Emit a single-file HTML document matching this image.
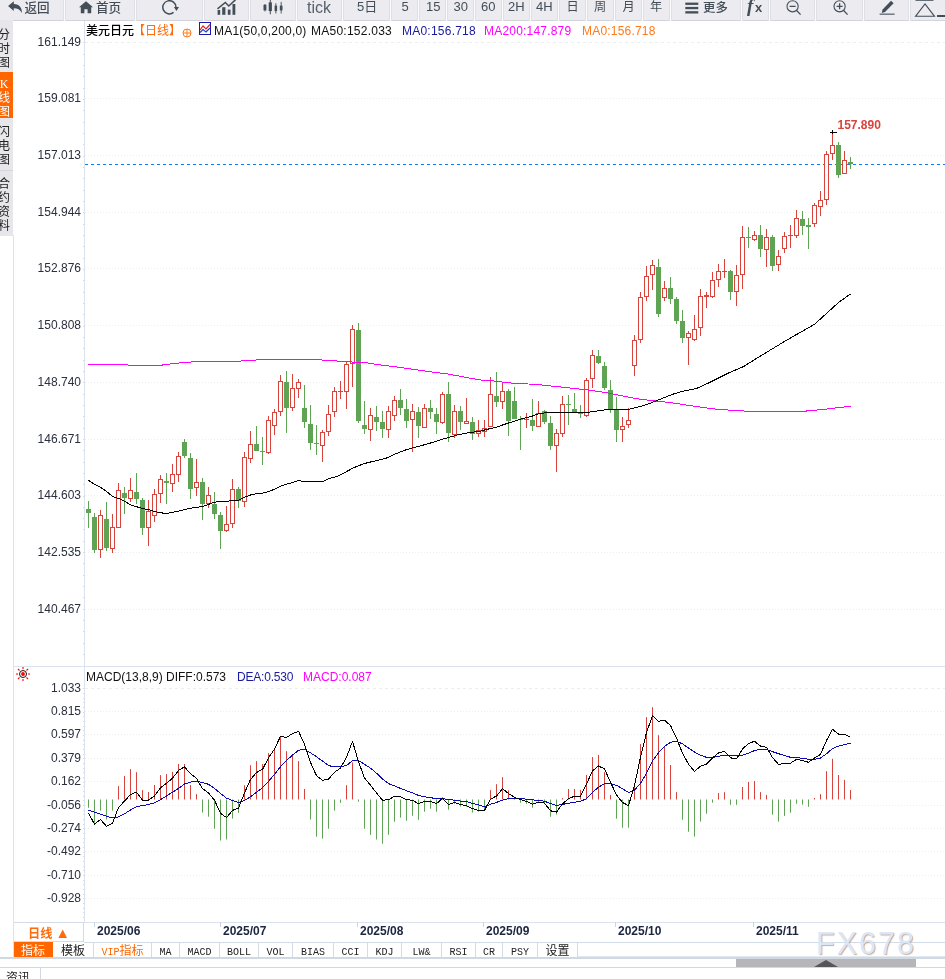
<!DOCTYPE html>
<html><head><meta charset="utf-8"><title>chart</title>
<style>
html,body{margin:0;padding:0;background:#fff;}
body{width:945px;height:979px;position:relative;overflow:hidden;font-family:"Liberation Sans","Noto Sans CJK SC",sans-serif;}
.abs{position:absolute;white-space:nowrap;}
.yl{position:absolute;left:14px;width:67px;text-align:right;font-size:12px;line-height:14px;color:#2b2f3e;}
.tb{position:absolute;top:0;height:20px;background:#ebebf0;box-sizing:border-box;border-left:1px solid #f6f6f9;border-right:1px solid #d4d4dc;border-bottom:1px solid #d8d8e0;color:#3c4650;font-size:13px;line-height:16px;text-align:center;overflow:hidden;white-space:nowrap;}
.side{position:absolute;left:0;width:13px;background:#e6e6eb;color:#222;font-size:12px;line-height:14px;overflow:hidden;font-family:"Liberation Sans","Noto Sans CJK SC",sans-serif;}
.side span{position:absolute;left:-2px;width:12px;text-align:center;}
.tab{position:absolute;top:942px;height:16px;box-sizing:border-box;border-right:1px solid #d3dce6;border-bottom:1px solid #d3dce6;font-size:12px;line-height:21px;text-align:center;color:#222;white-space:nowrap;overflow:hidden;font-family:"Liberation Mono","Noto Sans CJK SC",monospace;}
.tab i{font-style:normal;font-size:10px;display:inline-block;transform:scaleY(1.15);}
.dl{position:absolute;top:924px;font-size:12px;font-weight:bold;color:#1b2540;line-height:14px;}
</style></head><body>
<svg width="945" height="979" viewBox="0 0 945 979" style="position:absolute;left:0;top:0">
<g stroke="#e9eef3" stroke-width="1" stroke-dasharray="1 2" shape-rendering="crispEdges">
<line x1="85" y1="42.5" x2="945" y2="42.5" stroke-dasharray="3 3"/>
<line x1="85" y1="688.5" x2="945" y2="688.5" stroke-dasharray="3 3"/>
<line x1="85" y1="98.5" x2="945" y2="98.5"/>
<line x1="85" y1="155.5" x2="945" y2="155.5"/>
<line x1="85" y1="212.5" x2="945" y2="212.5"/>
<line x1="85" y1="268.5" x2="945" y2="268.5"/>
<line x1="85" y1="325.5" x2="945" y2="325.5"/>
<line x1="85" y1="382.5" x2="945" y2="382.5"/>
<line x1="85" y1="439.5" x2="945" y2="439.5"/>
<line x1="85" y1="495.5" x2="945" y2="495.5"/>
<line x1="85" y1="552.5" x2="945" y2="552.5"/>
<line x1="85" y1="609.5" x2="945" y2="609.5"/>
<line x1="85" y1="711.5" x2="945" y2="711.5"/>
<line x1="85" y1="734.5" x2="945" y2="734.5"/>
<line x1="85" y1="758.5" x2="945" y2="758.5"/>
<line x1="85" y1="781.5" x2="945" y2="781.5"/>
<line x1="85" y1="805.5" x2="945" y2="805.5"/>
<line x1="85" y1="828.5" x2="945" y2="828.5"/>
<line x1="85" y1="851.5" x2="945" y2="851.5"/>
<line x1="85" y1="875.5" x2="945" y2="875.5"/>
<line x1="85" y1="898.5" x2="945" y2="898.5"/>
</g>
<g fill="#cfdbe6" shape-rendering="crispEdges">
<rect x="83" y="42" width="1" height="1"/>
<rect x="83" y="54" width="1" height="1"/>
<rect x="83" y="65" width="1" height="1"/>
<rect x="83" y="76" width="1" height="1"/>
<rect x="83" y="88" width="1" height="1"/>
<rect x="83" y="99" width="1" height="1"/>
<rect x="83" y="110" width="1" height="1"/>
<rect x="83" y="122" width="1" height="1"/>
<rect x="83" y="133" width="1" height="1"/>
<rect x="83" y="144" width="1" height="1"/>
<rect x="83" y="156" width="1" height="1"/>
<rect x="83" y="167" width="1" height="1"/>
<rect x="83" y="178" width="1" height="1"/>
<rect x="83" y="190" width="1" height="1"/>
<rect x="83" y="201" width="1" height="1"/>
<rect x="83" y="212" width="1" height="1"/>
<rect x="83" y="224" width="1" height="1"/>
<rect x="83" y="235" width="1" height="1"/>
<rect x="83" y="246" width="1" height="1"/>
<rect x="83" y="258" width="1" height="1"/>
<rect x="83" y="269" width="1" height="1"/>
<rect x="83" y="280" width="1" height="1"/>
<rect x="83" y="292" width="1" height="1"/>
<rect x="83" y="303" width="1" height="1"/>
<rect x="83" y="314" width="1" height="1"/>
<rect x="83" y="326" width="1" height="1"/>
<rect x="83" y="337" width="1" height="1"/>
<rect x="83" y="348" width="1" height="1"/>
<rect x="83" y="360" width="1" height="1"/>
<rect x="83" y="371" width="1" height="1"/>
<rect x="83" y="382" width="1" height="1"/>
<rect x="83" y="394" width="1" height="1"/>
<rect x="83" y="405" width="1" height="1"/>
<rect x="83" y="416" width="1" height="1"/>
<rect x="83" y="428" width="1" height="1"/>
<rect x="83" y="439" width="1" height="1"/>
<rect x="83" y="450" width="1" height="1"/>
<rect x="83" y="462" width="1" height="1"/>
<rect x="83" y="473" width="1" height="1"/>
<rect x="83" y="484" width="1" height="1"/>
<rect x="83" y="496" width="1" height="1"/>
<rect x="83" y="507" width="1" height="1"/>
<rect x="83" y="518" width="1" height="1"/>
<rect x="83" y="529" width="1" height="1"/>
<rect x="83" y="541" width="1" height="1"/>
<rect x="83" y="552" width="1" height="1"/>
<rect x="83" y="563" width="1" height="1"/>
<rect x="83" y="575" width="1" height="1"/>
<rect x="83" y="586" width="1" height="1"/>
<rect x="83" y="597" width="1" height="1"/>
<rect x="83" y="609" width="1" height="1"/>
<rect x="83" y="620" width="1" height="1"/>
<rect x="83" y="631" width="1" height="1"/>
<rect x="83" y="643" width="1" height="1"/>
<rect x="83" y="654" width="1" height="1"/>
<rect x="83" y="688" width="1" height="1"/>
<rect x="83" y="693" width="1" height="1"/>
<rect x="83" y="698" width="1" height="1"/>
<rect x="83" y="702" width="1" height="1"/>
<rect x="83" y="707" width="1" height="1"/>
<rect x="83" y="712" width="1" height="1"/>
<rect x="83" y="716" width="1" height="1"/>
<rect x="83" y="721" width="1" height="1"/>
<rect x="83" y="726" width="1" height="1"/>
<rect x="83" y="730" width="1" height="1"/>
<rect x="83" y="735" width="1" height="1"/>
<rect x="83" y="740" width="1" height="1"/>
<rect x="83" y="744" width="1" height="1"/>
<rect x="83" y="749" width="1" height="1"/>
<rect x="83" y="754" width="1" height="1"/>
<rect x="83" y="758" width="1" height="1"/>
<rect x="83" y="763" width="1" height="1"/>
<rect x="83" y="768" width="1" height="1"/>
<rect x="83" y="772" width="1" height="1"/>
<rect x="83" y="777" width="1" height="1"/>
<rect x="83" y="782" width="1" height="1"/>
<rect x="83" y="786" width="1" height="1"/>
<rect x="83" y="791" width="1" height="1"/>
<rect x="83" y="796" width="1" height="1"/>
<rect x="83" y="800" width="1" height="1"/>
<rect x="83" y="805" width="1" height="1"/>
<rect x="83" y="810" width="1" height="1"/>
<rect x="83" y="814" width="1" height="1"/>
<rect x="83" y="819" width="1" height="1"/>
<rect x="83" y="824" width="1" height="1"/>
<rect x="83" y="828" width="1" height="1"/>
<rect x="83" y="833" width="1" height="1"/>
<rect x="83" y="838" width="1" height="1"/>
<rect x="83" y="842" width="1" height="1"/>
<rect x="83" y="847" width="1" height="1"/>
<rect x="83" y="852" width="1" height="1"/>
<rect x="83" y="856" width="1" height="1"/>
<rect x="83" y="861" width="1" height="1"/>
<rect x="83" y="866" width="1" height="1"/>
<rect x="83" y="870" width="1" height="1"/>
<rect x="83" y="875" width="1" height="1"/>
<rect x="83" y="880" width="1" height="1"/>
<rect x="83" y="884" width="1" height="1"/>
<rect x="83" y="889" width="1" height="1"/>
<rect x="83" y="894" width="1" height="1"/>
<rect x="83" y="898" width="1" height="1"/>
<rect x="83" y="903" width="1" height="1"/>
<rect x="83" y="908" width="1" height="1"/>
<rect x="83" y="912" width="1" height="1"/>
<rect x="83" y="917" width="1" height="1"/>
</g>
<g fill="#dbe4ec" shape-rendering="crispEdges">
<rect x="84" y="21" width="1" height="901"/>
<rect x="14" y="666" width="931" height="1"/>
<rect x="14" y="922" width="931" height="1"/>
</g>
<line x1="85" y1="164.5" x2="945" y2="164.5" stroke="#0f7bf7" stroke-width="1" stroke-dasharray="3 3" shape-rendering="crispEdges"/>
<g shape-rendering="crispEdges">
<rect x="88" y="501" width="1" height="27" fill="#5fa355"/>
<rect x="86" y="509" width="5" height="4" fill="#5fa355"/>
<rect x="94" y="513" width="1" height="40" fill="#5fa355"/>
<rect x="92" y="517" width="5" height="33" fill="#5fa355"/>
<rect x="100" y="510" width="1" height="5" fill="#d8433c"/>
<rect x="100" y="550" width="1" height="8" fill="#d8433c"/>
<rect x="98.5" y="515.5" width="4" height="34" fill="#fff" stroke="#d8433c" stroke-width="1"/>
<rect x="106" y="502" width="1" height="49" fill="#5fa355"/>
<rect x="104" y="519" width="5" height="29" fill="#5fa355"/>
<rect x="112" y="514" width="1" height="13" fill="#d8433c"/>
<rect x="112" y="549" width="1" height="4" fill="#d8433c"/>
<rect x="110.5" y="527.5" width="4" height="21" fill="#fff" stroke="#d8433c" stroke-width="1"/>
<rect x="118" y="483" width="1" height="7" fill="#d8433c"/>
<rect x="116.5" y="490.5" width="4" height="37" fill="#fff" stroke="#d8433c" stroke-width="1"/>
<rect x="124" y="487" width="1" height="27" fill="#5fa355"/>
<rect x="122" y="493" width="5" height="5" fill="#5fa355"/>
<rect x="130" y="478" width="1" height="12" fill="#d8433c"/>
<rect x="130" y="499" width="1" height="3" fill="#d8433c"/>
<rect x="128.5" y="490.5" width="4" height="8" fill="#fff" stroke="#d8433c" stroke-width="1"/>
<rect x="136" y="473" width="1" height="31" fill="#5fa355"/>
<rect x="134" y="492" width="5" height="7" fill="#5fa355"/>
<rect x="142" y="498" width="1" height="37" fill="#5fa355"/>
<rect x="140" y="500" width="5" height="28" fill="#5fa355"/>
<rect x="148" y="500" width="1" height="11" fill="#d8433c"/>
<rect x="148" y="528" width="1" height="18" fill="#d8433c"/>
<rect x="146.5" y="511.5" width="4" height="16" fill="#fff" stroke="#d8433c" stroke-width="1"/>
<rect x="154" y="489" width="1" height="5" fill="#d8433c"/>
<rect x="154" y="516" width="1" height="6" fill="#d8433c"/>
<rect x="152.5" y="494.5" width="4" height="21" fill="#fff" stroke="#d8433c" stroke-width="1"/>
<rect x="160" y="475" width="1" height="4" fill="#d8433c"/>
<rect x="160" y="494" width="1" height="9" fill="#d8433c"/>
<rect x="158.5" y="479.5" width="4" height="14" fill="#fff" stroke="#d8433c" stroke-width="1"/>
<rect x="166" y="473" width="1" height="31" fill="#5fa355"/>
<rect x="164" y="481" width="5" height="2" fill="#5fa355"/>
<rect x="172" y="464" width="1" height="10" fill="#d8433c"/>
<rect x="172" y="484" width="1" height="8" fill="#d8433c"/>
<rect x="170.5" y="474.5" width="4" height="9" fill="#fff" stroke="#d8433c" stroke-width="1"/>
<rect x="178" y="452" width="1" height="4" fill="#d8433c"/>
<rect x="178" y="475" width="1" height="7" fill="#d8433c"/>
<rect x="176.5" y="456.5" width="4" height="18" fill="#fff" stroke="#d8433c" stroke-width="1"/>
<rect x="184" y="439" width="1" height="19" fill="#5fa355"/>
<rect x="182" y="442" width="5" height="14" fill="#5fa355"/>
<rect x="190" y="453" width="1" height="46" fill="#5fa355"/>
<rect x="188" y="458" width="5" height="31" fill="#5fa355"/>
<rect x="196" y="459" width="1" height="23" fill="#d8433c"/>
<rect x="196" y="488" width="1" height="8" fill="#d8433c"/>
<rect x="194.5" y="482.5" width="4" height="5" fill="#fff" stroke="#d8433c" stroke-width="1"/>
<rect x="202" y="478" width="1" height="42" fill="#5fa355"/>
<rect x="200" y="482" width="5" height="22" fill="#5fa355"/>
<rect x="208" y="487" width="1" height="8" fill="#d8433c"/>
<rect x="208" y="504" width="1" height="4" fill="#d8433c"/>
<rect x="206.5" y="495.5" width="4" height="8" fill="#fff" stroke="#d8433c" stroke-width="1"/>
<rect x="214" y="492" width="1" height="27" fill="#5fa355"/>
<rect x="212" y="504" width="5" height="10" fill="#5fa355"/>
<rect x="220" y="512" width="1" height="37" fill="#5fa355"/>
<rect x="218" y="515" width="5" height="16" fill="#5fa355"/>
<rect x="226" y="506" width="1" height="18" fill="#d8433c"/>
<rect x="226" y="531" width="1" height="1" fill="#d8433c"/>
<rect x="224.5" y="524.5" width="4" height="6" fill="#fff" stroke="#d8433c" stroke-width="1"/>
<rect x="232" y="479" width="1" height="10" fill="#d8433c"/>
<rect x="232" y="524" width="1" height="4" fill="#d8433c"/>
<rect x="230.5" y="489.5" width="4" height="34" fill="#fff" stroke="#d8433c" stroke-width="1"/>
<rect x="238" y="487" width="1" height="21" fill="#5fa355"/>
<rect x="236" y="489" width="5" height="12" fill="#5fa355"/>
<rect x="244" y="452" width="1" height="5" fill="#d8433c"/>
<rect x="244" y="502" width="1" height="5" fill="#d8433c"/>
<rect x="242.5" y="457.5" width="4" height="44" fill="#fff" stroke="#d8433c" stroke-width="1"/>
<rect x="250" y="431" width="1" height="13" fill="#d8433c"/>
<rect x="250" y="459" width="1" height="4" fill="#d8433c"/>
<rect x="248.5" y="444.5" width="4" height="14" fill="#fff" stroke="#d8433c" stroke-width="1"/>
<rect x="256" y="426" width="1" height="25" fill="#5fa355"/>
<rect x="254" y="444" width="5" height="7" fill="#5fa355"/>
<rect x="262" y="437" width="1" height="28" fill="#5fa355"/>
<rect x="260" y="451" width="5" height="1" fill="#5fa355"/>
<rect x="268" y="416" width="1" height="4" fill="#d8433c"/>
<rect x="268" y="453" width="1" height="1" fill="#d8433c"/>
<rect x="266.5" y="420.5" width="4" height="32" fill="#fff" stroke="#d8433c" stroke-width="1"/>
<rect x="274" y="409" width="1" height="3" fill="#d8433c"/>
<rect x="274" y="426" width="1" height="9" fill="#d8433c"/>
<rect x="272.5" y="412.5" width="4" height="13" fill="#fff" stroke="#d8433c" stroke-width="1"/>
<rect x="280" y="375" width="1" height="6" fill="#d8433c"/>
<rect x="280" y="412" width="1" height="4" fill="#d8433c"/>
<rect x="278.5" y="381.5" width="4" height="30" fill="#fff" stroke="#d8433c" stroke-width="1"/>
<rect x="286" y="371" width="1" height="62" fill="#5fa355"/>
<rect x="284" y="382" width="5" height="26" fill="#5fa355"/>
<rect x="292" y="374" width="1" height="14" fill="#d8433c"/>
<rect x="292" y="408" width="1" height="3" fill="#d8433c"/>
<rect x="290.5" y="388.5" width="4" height="19" fill="#fff" stroke="#d8433c" stroke-width="1"/>
<rect x="298" y="379" width="1" height="3" fill="#d8433c"/>
<rect x="298" y="389" width="1" height="9" fill="#d8433c"/>
<rect x="296.5" y="382.5" width="4" height="6" fill="#fff" stroke="#d8433c" stroke-width="1"/>
<rect x="304" y="385" width="1" height="43" fill="#5fa355"/>
<rect x="302" y="408" width="5" height="14" fill="#5fa355"/>
<rect x="310" y="405" width="1" height="45" fill="#5fa355"/>
<rect x="308" y="424" width="5" height="19" fill="#5fa355"/>
<rect x="316" y="425" width="1" height="30" fill="#5fa355"/>
<rect x="314" y="443" width="5" height="1" fill="#5fa355"/>
<rect x="322" y="430" width="1" height="2" fill="#d8433c"/>
<rect x="322" y="446" width="1" height="16" fill="#d8433c"/>
<rect x="320.5" y="432.5" width="4" height="13" fill="#fff" stroke="#d8433c" stroke-width="1"/>
<rect x="328" y="405" width="1" height="9" fill="#d8433c"/>
<rect x="328" y="432" width="1" height="4" fill="#d8433c"/>
<rect x="326.5" y="414.5" width="4" height="17" fill="#fff" stroke="#d8433c" stroke-width="1"/>
<rect x="334" y="387" width="1" height="4" fill="#d8433c"/>
<rect x="334" y="412" width="1" height="5" fill="#d8433c"/>
<rect x="332.5" y="391.5" width="4" height="20" fill="#fff" stroke="#d8433c" stroke-width="1"/>
<rect x="340" y="381" width="1" height="10" fill="#d8433c"/>
<rect x="340" y="392" width="1" height="7" fill="#d8433c"/>
<rect x="338" y="391" width="5" height="1" fill="#d8433c"/>
<rect x="346" y="361" width="1" height="3" fill="#d8433c"/>
<rect x="346" y="392" width="1" height="17" fill="#d8433c"/>
<rect x="344.5" y="364.5" width="4" height="27" fill="#fff" stroke="#d8433c" stroke-width="1"/>
<rect x="352" y="325" width="1" height="4" fill="#d8433c"/>
<rect x="352" y="364" width="1" height="23" fill="#d8433c"/>
<rect x="350.5" y="329.5" width="4" height="34" fill="#fff" stroke="#d8433c" stroke-width="1"/>
<rect x="358" y="323" width="1" height="100" fill="#5fa355"/>
<rect x="356" y="330" width="5" height="91" fill="#5fa355"/>
<rect x="364" y="401" width="1" height="33" fill="#5fa355"/>
<rect x="362" y="425" width="5" height="4" fill="#5fa355"/>
<rect x="370" y="408" width="1" height="7" fill="#d8433c"/>
<rect x="370" y="430" width="1" height="11" fill="#d8433c"/>
<rect x="368.5" y="415.5" width="4" height="14" fill="#fff" stroke="#d8433c" stroke-width="1"/>
<rect x="376" y="406" width="1" height="25" fill="#5fa355"/>
<rect x="374" y="417" width="5" height="5" fill="#5fa355"/>
<rect x="382" y="411" width="1" height="27" fill="#5fa355"/>
<rect x="380" y="422" width="5" height="7" fill="#5fa355"/>
<rect x="388" y="406" width="1" height="5" fill="#d8433c"/>
<rect x="388" y="430" width="1" height="8" fill="#d8433c"/>
<rect x="386.5" y="411.5" width="4" height="18" fill="#fff" stroke="#d8433c" stroke-width="1"/>
<rect x="394" y="396" width="1" height="4" fill="#d8433c"/>
<rect x="394" y="416" width="1" height="5" fill="#d8433c"/>
<rect x="392.5" y="400.5" width="4" height="15" fill="#fff" stroke="#d8433c" stroke-width="1"/>
<rect x="400" y="389" width="1" height="26" fill="#5fa355"/>
<rect x="398" y="400" width="5" height="8" fill="#5fa355"/>
<rect x="406" y="399" width="1" height="29" fill="#5fa355"/>
<rect x="404" y="409" width="5" height="12" fill="#5fa355"/>
<rect x="412" y="404" width="1" height="7" fill="#d8433c"/>
<rect x="412" y="420" width="1" height="32" fill="#d8433c"/>
<rect x="410.5" y="411.5" width="4" height="8" fill="#fff" stroke="#d8433c" stroke-width="1"/>
<rect x="418" y="407" width="1" height="31" fill="#5fa355"/>
<rect x="416" y="412" width="5" height="14" fill="#5fa355"/>
<rect x="424" y="404" width="1" height="4" fill="#d8433c"/>
<rect x="422.5" y="408.5" width="4" height="19" fill="#fff" stroke="#d8433c" stroke-width="1"/>
<rect x="430" y="400" width="1" height="19" fill="#5fa355"/>
<rect x="428" y="408" width="5" height="4" fill="#5fa355"/>
<rect x="436" y="408" width="1" height="26" fill="#5fa355"/>
<rect x="434" y="414" width="5" height="8" fill="#5fa355"/>
<rect x="442" y="392" width="1" height="2" fill="#d8433c"/>
<rect x="442" y="423" width="1" height="1" fill="#d8433c"/>
<rect x="440.5" y="394.5" width="4" height="28" fill="#fff" stroke="#d8433c" stroke-width="1"/>
<rect x="448" y="382" width="1" height="60" fill="#5fa355"/>
<rect x="446" y="394" width="5" height="39" fill="#5fa355"/>
<rect x="454" y="405" width="1" height="6" fill="#d8433c"/>
<rect x="454" y="435" width="1" height="3" fill="#d8433c"/>
<rect x="452.5" y="411.5" width="4" height="23" fill="#fff" stroke="#d8433c" stroke-width="1"/>
<rect x="460" y="406" width="1" height="24" fill="#5fa355"/>
<rect x="458" y="411" width="5" height="11" fill="#5fa355"/>
<rect x="466" y="398" width="1" height="23" fill="#d8433c"/>
<rect x="464.5" y="421.5" width="4" height="2" fill="#fff" stroke="#d8433c" stroke-width="1"/>
<rect x="472" y="417" width="1" height="23" fill="#5fa355"/>
<rect x="470" y="422" width="5" height="12" fill="#5fa355"/>
<rect x="478" y="420" width="1" height="10" fill="#d8433c"/>
<rect x="478" y="434" width="1" height="3" fill="#d8433c"/>
<rect x="476.5" y="430.5" width="4" height="3" fill="#fff" stroke="#d8433c" stroke-width="1"/>
<rect x="484" y="420" width="1" height="8" fill="#d8433c"/>
<rect x="484" y="432" width="1" height="5" fill="#d8433c"/>
<rect x="482.5" y="428.5" width="4" height="3" fill="#fff" stroke="#d8433c" stroke-width="1"/>
<rect x="490" y="377" width="1" height="17" fill="#d8433c"/>
<rect x="488.5" y="394.5" width="4" height="32" fill="#fff" stroke="#d8433c" stroke-width="1"/>
<rect x="496" y="372" width="1" height="35" fill="#5fa355"/>
<rect x="494" y="396" width="5" height="6" fill="#5fa355"/>
<rect x="502" y="383" width="1" height="8" fill="#d8433c"/>
<rect x="502" y="402" width="1" height="7" fill="#d8433c"/>
<rect x="500.5" y="391.5" width="4" height="10" fill="#fff" stroke="#d8433c" stroke-width="1"/>
<rect x="508" y="389" width="1" height="47" fill="#5fa355"/>
<rect x="506" y="391" width="5" height="30" fill="#5fa355"/>
<rect x="514" y="387" width="1" height="32" fill="#5fa355"/>
<rect x="512" y="401" width="5" height="18" fill="#5fa355"/>
<rect x="520" y="416" width="1" height="34" fill="#5fa355"/>
<rect x="518" y="419" width="5" height="1" fill="#5fa355"/>
<rect x="526" y="413" width="1" height="6" fill="#d8433c"/>
<rect x="526" y="420" width="1" height="8" fill="#d8433c"/>
<rect x="524" y="419" width="5" height="1" fill="#d8433c"/>
<rect x="532" y="399" width="1" height="32" fill="#5fa355"/>
<rect x="530" y="420" width="5" height="6" fill="#5fa355"/>
<rect x="538" y="401" width="1" height="12" fill="#d8433c"/>
<rect x="536.5" y="413.5" width="4" height="13" fill="#fff" stroke="#d8433c" stroke-width="1"/>
<rect x="544" y="410" width="1" height="14" fill="#5fa355"/>
<rect x="542" y="411" width="5" height="11" fill="#5fa355"/>
<rect x="550" y="416" width="1" height="34" fill="#5fa355"/>
<rect x="548" y="423" width="5" height="23" fill="#5fa355"/>
<rect x="556" y="429" width="1" height="4" fill="#d8433c"/>
<rect x="556" y="446" width="1" height="26" fill="#d8433c"/>
<rect x="554.5" y="433.5" width="4" height="12" fill="#fff" stroke="#d8433c" stroke-width="1"/>
<rect x="562" y="396" width="1" height="8" fill="#d8433c"/>
<rect x="562" y="434" width="1" height="3" fill="#d8433c"/>
<rect x="560.5" y="404.5" width="4" height="29" fill="#fff" stroke="#d8433c" stroke-width="1"/>
<rect x="568" y="395" width="1" height="30" fill="#5fa355"/>
<rect x="566" y="404" width="5" height="1" fill="#5fa355"/>
<rect x="574" y="393" width="1" height="19" fill="#5fa355"/>
<rect x="572" y="409" width="5" height="3" fill="#5fa355"/>
<rect x="580" y="405" width="1" height="13" fill="#5fa355"/>
<rect x="578" y="412" width="5" height="2" fill="#5fa355"/>
<rect x="586" y="378" width="1" height="2" fill="#d8433c"/>
<rect x="586" y="416" width="1" height="1" fill="#d8433c"/>
<rect x="584.5" y="380.5" width="4" height="35" fill="#fff" stroke="#d8433c" stroke-width="1"/>
<rect x="592" y="350" width="1" height="5" fill="#d8433c"/>
<rect x="592" y="379" width="1" height="9" fill="#d8433c"/>
<rect x="590.5" y="355.5" width="4" height="23" fill="#fff" stroke="#d8433c" stroke-width="1"/>
<rect x="598" y="350" width="1" height="14" fill="#5fa355"/>
<rect x="596" y="356" width="5" height="7" fill="#5fa355"/>
<rect x="604" y="362" width="1" height="28" fill="#5fa355"/>
<rect x="602" y="366" width="5" height="22" fill="#5fa355"/>
<rect x="610" y="380" width="1" height="33" fill="#5fa355"/>
<rect x="608" y="390" width="5" height="19" fill="#5fa355"/>
<rect x="616" y="397" width="1" height="45" fill="#5fa355"/>
<rect x="614" y="410" width="5" height="20" fill="#5fa355"/>
<rect x="622" y="417" width="1" height="9" fill="#d8433c"/>
<rect x="622" y="430" width="1" height="12" fill="#d8433c"/>
<rect x="620.5" y="426.5" width="4" height="3" fill="#fff" stroke="#d8433c" stroke-width="1"/>
<rect x="628" y="408" width="1" height="12" fill="#d8433c"/>
<rect x="628" y="425" width="1" height="3" fill="#d8433c"/>
<rect x="626.5" y="420.5" width="4" height="4" fill="#fff" stroke="#d8433c" stroke-width="1"/>
<rect x="634" y="335" width="1" height="5" fill="#d8433c"/>
<rect x="634" y="366" width="1" height="10" fill="#d8433c"/>
<rect x="632.5" y="340.5" width="4" height="25" fill="#fff" stroke="#d8433c" stroke-width="1"/>
<rect x="640" y="292" width="1" height="5" fill="#d8433c"/>
<rect x="640" y="340" width="1" height="3" fill="#d8433c"/>
<rect x="638.5" y="297.5" width="4" height="42" fill="#fff" stroke="#d8433c" stroke-width="1"/>
<rect x="646" y="266" width="1" height="10" fill="#d8433c"/>
<rect x="646" y="297" width="1" height="4" fill="#d8433c"/>
<rect x="644.5" y="276.5" width="4" height="20" fill="#fff" stroke="#d8433c" stroke-width="1"/>
<rect x="652" y="260" width="1" height="5" fill="#d8433c"/>
<rect x="652" y="275" width="1" height="15" fill="#d8433c"/>
<rect x="650.5" y="265.5" width="4" height="9" fill="#fff" stroke="#d8433c" stroke-width="1"/>
<rect x="658" y="259" width="1" height="58" fill="#5fa355"/>
<rect x="656" y="267" width="5" height="47" fill="#5fa355"/>
<rect x="664" y="281" width="1" height="7" fill="#d8433c"/>
<rect x="664" y="298" width="1" height="3" fill="#d8433c"/>
<rect x="662.5" y="288.5" width="4" height="9" fill="#fff" stroke="#d8433c" stroke-width="1"/>
<rect x="670" y="277" width="1" height="27" fill="#5fa355"/>
<rect x="668" y="288" width="5" height="11" fill="#5fa355"/>
<rect x="676" y="297" width="1" height="27" fill="#5fa355"/>
<rect x="674" y="299" width="5" height="22" fill="#5fa355"/>
<rect x="682" y="310" width="1" height="33" fill="#5fa355"/>
<rect x="680" y="321" width="5" height="17" fill="#5fa355"/>
<rect x="688" y="331" width="1" height="2" fill="#d8433c"/>
<rect x="688" y="338" width="1" height="27" fill="#d8433c"/>
<rect x="686.5" y="333.5" width="4" height="4" fill="#fff" stroke="#d8433c" stroke-width="1"/>
<rect x="694" y="315" width="1" height="14" fill="#d8433c"/>
<rect x="694" y="340" width="1" height="1" fill="#d8433c"/>
<rect x="692.5" y="329.5" width="4" height="10" fill="#fff" stroke="#d8433c" stroke-width="1"/>
<rect x="700" y="289" width="1" height="7" fill="#d8433c"/>
<rect x="700" y="328" width="1" height="8" fill="#d8433c"/>
<rect x="698.5" y="296.5" width="4" height="31" fill="#fff" stroke="#d8433c" stroke-width="1"/>
<rect x="706" y="292" width="1" height="3" fill="#d8433c"/>
<rect x="706" y="297" width="1" height="11" fill="#d8433c"/>
<rect x="704" y="295" width="5" height="2" fill="#d8433c"/>
<rect x="712" y="272" width="1" height="8" fill="#d8433c"/>
<rect x="712" y="297" width="1" height="1" fill="#d8433c"/>
<rect x="710.5" y="280.5" width="4" height="16" fill="#fff" stroke="#d8433c" stroke-width="1"/>
<rect x="718" y="264" width="1" height="7" fill="#d8433c"/>
<rect x="718" y="280" width="1" height="7" fill="#d8433c"/>
<rect x="716.5" y="271.5" width="4" height="8" fill="#fff" stroke="#d8433c" stroke-width="1"/>
<rect x="724" y="259" width="1" height="12" fill="#d8433c"/>
<rect x="724" y="272" width="1" height="6" fill="#d8433c"/>
<rect x="722" y="271" width="5" height="1" fill="#d8433c"/>
<rect x="730" y="270" width="1" height="30" fill="#5fa355"/>
<rect x="728" y="271" width="5" height="21" fill="#5fa355"/>
<rect x="736" y="265" width="1" height="10" fill="#d8433c"/>
<rect x="736" y="292" width="1" height="14" fill="#d8433c"/>
<rect x="734.5" y="275.5" width="4" height="16" fill="#fff" stroke="#d8433c" stroke-width="1"/>
<rect x="742" y="226" width="1" height="11" fill="#d8433c"/>
<rect x="742" y="275" width="1" height="14" fill="#d8433c"/>
<rect x="740.5" y="237.5" width="4" height="37" fill="#fff" stroke="#d8433c" stroke-width="1"/>
<rect x="748" y="227" width="1" height="21" fill="#5fa355"/>
<rect x="746" y="237" width="5" height="1" fill="#5fa355"/>
<rect x="754" y="231" width="1" height="4" fill="#d8433c"/>
<rect x="754" y="240" width="1" height="1" fill="#d8433c"/>
<rect x="752.5" y="235.5" width="4" height="4" fill="#fff" stroke="#d8433c" stroke-width="1"/>
<rect x="760" y="225" width="1" height="32" fill="#5fa355"/>
<rect x="758" y="235" width="5" height="14" fill="#5fa355"/>
<rect x="766" y="229" width="1" height="8" fill="#d8433c"/>
<rect x="766" y="250" width="1" height="17" fill="#d8433c"/>
<rect x="764.5" y="237.5" width="4" height="12" fill="#fff" stroke="#d8433c" stroke-width="1"/>
<rect x="772" y="235" width="1" height="36" fill="#5fa355"/>
<rect x="770" y="237" width="5" height="29" fill="#5fa355"/>
<rect x="778" y="250" width="1" height="6" fill="#d8433c"/>
<rect x="778" y="265" width="1" height="6" fill="#d8433c"/>
<rect x="776.5" y="256.5" width="4" height="8" fill="#fff" stroke="#d8433c" stroke-width="1"/>
<rect x="784" y="232" width="1" height="4" fill="#d8433c"/>
<rect x="784" y="249" width="1" height="4" fill="#d8433c"/>
<rect x="782.5" y="236.5" width="4" height="12" fill="#fff" stroke="#d8433c" stroke-width="1"/>
<rect x="790" y="225" width="1" height="10" fill="#d8433c"/>
<rect x="790" y="236" width="1" height="12" fill="#d8433c"/>
<rect x="788" y="235" width="5" height="1" fill="#d8433c"/>
<rect x="796" y="210" width="1" height="8" fill="#d8433c"/>
<rect x="796" y="236" width="1" height="2" fill="#d8433c"/>
<rect x="794.5" y="218.5" width="4" height="17" fill="#fff" stroke="#d8433c" stroke-width="1"/>
<rect x="802" y="211" width="1" height="24" fill="#5fa355"/>
<rect x="800" y="219" width="5" height="7" fill="#5fa355"/>
<rect x="808" y="218" width="1" height="31" fill="#5fa355"/>
<rect x="806" y="225" width="5" height="2" fill="#5fa355"/>
<rect x="814" y="203" width="1" height="2" fill="#d8433c"/>
<rect x="814" y="224" width="1" height="3" fill="#d8433c"/>
<rect x="812.5" y="205.5" width="4" height="18" fill="#fff" stroke="#d8433c" stroke-width="1"/>
<rect x="820" y="191" width="1" height="9" fill="#d8433c"/>
<rect x="820" y="207" width="1" height="9" fill="#d8433c"/>
<rect x="818.5" y="200.5" width="4" height="6" fill="#fff" stroke="#d8433c" stroke-width="1"/>
<rect x="826" y="151" width="1" height="3" fill="#d8433c"/>
<rect x="826" y="200" width="1" height="5" fill="#d8433c"/>
<rect x="824.5" y="154.5" width="4" height="45" fill="#fff" stroke="#d8433c" stroke-width="1"/>
<rect x="832" y="133" width="1" height="12" fill="#d8433c"/>
<rect x="832" y="154" width="1" height="6" fill="#d8433c"/>
<rect x="830.5" y="145.5" width="4" height="8" fill="#fff" stroke="#d8433c" stroke-width="1"/>
<rect x="838" y="142" width="1" height="36" fill="#5fa355"/>
<rect x="836" y="145" width="5" height="30" fill="#5fa355"/>
<rect x="844" y="151" width="1" height="9" fill="#d8433c"/>
<rect x="842.5" y="160.5" width="4" height="13" fill="#fff" stroke="#d8433c" stroke-width="1"/>
<rect x="850" y="157" width="1" height="12" fill="#5fa355"/>
<rect x="848" y="162" width="5" height="2" fill="#5fa355"/>
</g>
<polyline fill="none" stroke="#ff00ff" stroke-width="1" stroke-linejoin="round" shape-rendering="crispEdges" points="88.5,364.0 125.0,364.2 128.4,365.1 161.8,365.1 175.0,363.3 188.4,362.2 199.6,361.3 239.6,361.1 259.6,359.8 313.0,359.5 332.0,360.6 346.5,361.7 367.0,362.8 372.0,363.8 397.0,367.0 423.0,370.8 448.0,374.0 473.6,378.8 482.5,380.3 492.0,380.8 511.0,383.0 537.0,384.5 562.0,387.1 587.6,390.0 606.0,392.5 629.0,397.3 641.6,399.5 660.0,401.4 672.2,402.9 694.4,406.2 716.7,409.3 738.9,410.7 754.4,411.6 783.3,411.6 805.6,411.1 827.8,408.9 850.5,406.2"/>
<polyline fill="none" stroke="#000000" stroke-width="1" stroke-linejoin="round" shape-rendering="crispEdges" points="88.5,480.4 94.5,484.4 100.5,487.2 106.5,491.4 112.5,496.5 118.5,498.4 124.5,501.3 130.5,504.8 136.5,506.7 142.5,508.6 148.5,509.6 154.5,511.5 160.5,512.8 166.5,513.4 172.5,512.4 178.5,511.1 184.5,509.6 190.5,508.3 196.5,507.3 202.5,506.5 208.5,504.4 214.5,502.2 220.5,501.6 226.5,501.2 232.5,500.7 238.5,500.3 244.5,497.1 250.5,495.0 256.5,493.6 262.5,493.3 268.5,491.4 274.5,489.3 280.5,486.3 286.5,484.2 292.5,482.6 298.9,480.4 302.7,481.4 323.0,481.4 328.1,478.9 338.3,476.0 345.9,471.9 353.5,467.8 363.7,463.7 372.5,461.5 385.2,458.6 395.4,454.0 404.3,450.4 410.0,448.6 420.0,446.0 432.0,442.6 444.0,438.8 458.0,434.8 470.0,432.5 480.0,431.2 486.0,429.6 496.4,427.1 508.5,423.0 520.4,419.2 532.5,416.0 538.4,413.9 544.4,412.9 562.0,412.5 588.0,412.3 608.6,409.4 628.9,409.4 641.6,406.2 650.0,403.3 661.1,398.9 672.2,394.4 683.3,391.1 696.7,388.4 705.6,384.4 716.7,378.9 727.8,373.3 743.3,366.7 761.1,355.6 772.2,348.9 783.3,342.2 796.7,334.4 814.4,324.4 827.8,312.2 838.9,302.2 850.5,294.0"/>
<g fill="#000" shape-rendering="crispEdges"><rect x="830" y="132" width="7" height="1"/><rect x="832" y="130" width="1" height="4"/></g>
<g>
<rect x="88" y="799.5" width="1" height="8.2" fill="#5fa355"/>
<rect x="94" y="799.5" width="1" height="23.2" fill="#5fa355"/>
<rect x="100" y="799.5" width="1" height="11.1" fill="#5fa355"/>
<rect x="106" y="799.5" width="1" height="20.0" fill="#5fa355"/>
<rect x="112" y="799.5" width="1" height="11.1" fill="#5fa355"/>
<rect x="118" y="786.1" width="1" height="13.4" fill="#d8433c"/>
<rect x="124" y="776.0" width="1" height="23.5" fill="#d8433c"/>
<rect x="130" y="769.1" width="1" height="30.4" fill="#d8433c"/>
<rect x="136" y="772.2" width="1" height="27.3" fill="#d8433c"/>
<rect x="142" y="790.1" width="1" height="9.4" fill="#d8433c"/>
<rect x="148" y="792.0" width="1" height="7.5" fill="#d8433c"/>
<rect x="154" y="785.0" width="1" height="14.5" fill="#d8433c"/>
<rect x="160" y="775.1" width="1" height="24.4" fill="#d8433c"/>
<rect x="166" y="774.1" width="1" height="25.4" fill="#d8433c"/>
<rect x="172" y="771.9" width="1" height="27.6" fill="#d8433c"/>
<rect x="178" y="764.0" width="1" height="35.5" fill="#d8433c"/>
<rect x="184" y="764.0" width="1" height="35.5" fill="#d8433c"/>
<rect x="190" y="785.0" width="1" height="14.5" fill="#d8433c"/>
<rect x="196" y="794.1" width="1" height="5.4" fill="#d8433c"/>
<rect x="202" y="799.5" width="1" height="13.1" fill="#5fa355"/>
<rect x="208" y="799.5" width="1" height="17.2" fill="#5fa355"/>
<rect x="214" y="799.5" width="1" height="29.2" fill="#5fa355"/>
<rect x="220" y="799.5" width="1" height="41.0" fill="#5fa355"/>
<rect x="226" y="799.5" width="1" height="40.0" fill="#5fa355"/>
<rect x="232" y="799.5" width="1" height="19.1" fill="#5fa355"/>
<rect x="238" y="799.5" width="1" height="13.3" fill="#5fa355"/>
<rect x="244" y="785.2" width="1" height="14.3" fill="#d8433c"/>
<rect x="250" y="765.2" width="1" height="34.3" fill="#d8433c"/>
<rect x="256" y="761.1" width="1" height="38.4" fill="#d8433c"/>
<rect x="262" y="764.0" width="1" height="35.5" fill="#d8433c"/>
<rect x="268" y="753.1" width="1" height="46.4" fill="#d8433c"/>
<rect x="274" y="749.0" width="1" height="50.5" fill="#d8433c"/>
<rect x="280" y="737.0" width="1" height="62.5" fill="#d8433c"/>
<rect x="286" y="751.2" width="1" height="48.3" fill="#d8433c"/>
<rect x="292" y="755.1" width="1" height="44.4" fill="#d8433c"/>
<rect x="298" y="761.1" width="1" height="38.4" fill="#d8433c"/>
<rect x="304" y="789.0" width="1" height="10.5" fill="#d8433c"/>
<rect x="310" y="799.5" width="1" height="20.0" fill="#5fa355"/>
<rect x="316" y="799.5" width="1" height="37.2" fill="#5fa355"/>
<rect x="322" y="799.5" width="1" height="39.1" fill="#5fa355"/>
<rect x="328" y="799.5" width="1" height="29.2" fill="#5fa355"/>
<rect x="334" y="799.5" width="1" height="11.1" fill="#5fa355"/>
<rect x="340" y="799.5" width="1" height="3.3" fill="#5fa355"/>
<rect x="346" y="785.2" width="1" height="14.3" fill="#d8433c"/>
<rect x="352" y="762.4" width="1" height="37.1" fill="#d8433c"/>
<rect x="358" y="799.5" width="1" height="2.2" fill="#5fa355"/>
<rect x="364" y="799.5" width="1" height="29.2" fill="#5fa355"/>
<rect x="370" y="799.5" width="1" height="35.3" fill="#5fa355"/>
<rect x="376" y="799.5" width="1" height="40.0" fill="#5fa355"/>
<rect x="382" y="799.5" width="1" height="44.2" fill="#5fa355"/>
<rect x="388" y="799.5" width="1" height="35.3" fill="#5fa355"/>
<rect x="394" y="799.5" width="1" height="22.2" fill="#5fa355"/>
<rect x="400" y="799.5" width="1" height="18.1" fill="#5fa355"/>
<rect x="406" y="799.5" width="1" height="21.3" fill="#5fa355"/>
<rect x="412" y="799.5" width="1" height="16.2" fill="#5fa355"/>
<rect x="418" y="799.5" width="1" height="20.3" fill="#5fa355"/>
<rect x="424" y="799.5" width="1" height="12.2" fill="#5fa355"/>
<rect x="430" y="799.5" width="1" height="9.2" fill="#5fa355"/>
<rect x="436" y="799.5" width="1" height="12.2" fill="#5fa355"/>
<rect x="442" y="797.3" width="1" height="2.2" fill="#d8433c"/>
<rect x="448" y="799.5" width="1" height="10.2" fill="#5fa355"/>
<rect x="454" y="799.5" width="1" height="4.2" fill="#5fa355"/>
<rect x="460" y="799.5" width="1" height="7.1" fill="#5fa355"/>
<rect x="466" y="799.5" width="1" height="7.1" fill="#5fa355"/>
<rect x="472" y="799.5" width="1" height="13.0" fill="#5fa355"/>
<rect x="478" y="799.5" width="1" height="12.2" fill="#5fa355"/>
<rect x="484" y="799.5" width="1" height="10.2" fill="#5fa355"/>
<rect x="490" y="790.1" width="1" height="9.4" fill="#d8433c"/>
<rect x="496" y="784.2" width="1" height="15.3" fill="#d8433c"/>
<rect x="502" y="777.2" width="1" height="22.3" fill="#d8433c"/>
<rect x="508" y="790.3" width="1" height="9.2" fill="#d8433c"/>
<rect x="514" y="797.3" width="1" height="2.2" fill="#d8433c"/>
<rect x="520" y="799.5" width="1" height="3.3" fill="#5fa355"/>
<rect x="526" y="799.5" width="1" height="4.2" fill="#5fa355"/>
<rect x="532" y="799.5" width="1" height="8.2" fill="#5fa355"/>
<rect x="538" y="799.5" width="1" height="3.3" fill="#5fa355"/>
<rect x="544" y="799.5" width="1" height="3.8" fill="#5fa355"/>
<rect x="550" y="799.5" width="1" height="17.3" fill="#5fa355"/>
<rect x="556" y="799.5" width="1" height="15.1" fill="#5fa355"/>
<rect x="562" y="798.1" width="1" height="1.4" fill="#d8433c"/>
<rect x="568" y="789.0" width="1" height="10.5" fill="#d8433c"/>
<rect x="574" y="789.0" width="1" height="10.5" fill="#d8433c"/>
<rect x="580" y="789.8" width="1" height="9.7" fill="#d8433c"/>
<rect x="586" y="775.0" width="1" height="24.5" fill="#d8433c"/>
<rect x="592" y="757.1" width="1" height="42.4" fill="#d8433c"/>
<rect x="598" y="754.9" width="1" height="44.6" fill="#d8433c"/>
<rect x="604" y="772.1" width="1" height="27.4" fill="#d8433c"/>
<rect x="610" y="794.9" width="1" height="4.6" fill="#d8433c"/>
<rect x="616" y="799.5" width="1" height="19.2" fill="#5fa355"/>
<rect x="622" y="799.5" width="1" height="28.2" fill="#5fa355"/>
<rect x="628" y="799.5" width="1" height="28.2" fill="#5fa355"/>
<rect x="634" y="786.1" width="1" height="13.4" fill="#d8433c"/>
<rect x="640" y="744.1" width="1" height="55.4" fill="#d8433c"/>
<rect x="646" y="717.1" width="1" height="82.4" fill="#d8433c"/>
<rect x="652" y="707.2" width="1" height="92.3" fill="#d8433c"/>
<rect x="658" y="735.2" width="1" height="64.3" fill="#d8433c"/>
<rect x="664" y="746.3" width="1" height="53.2" fill="#d8433c"/>
<rect x="670" y="765.0" width="1" height="34.5" fill="#d8433c"/>
<rect x="676" y="792.1" width="1" height="7.4" fill="#d8433c"/>
<rect x="682" y="799.5" width="1" height="20.2" fill="#5fa355"/>
<rect x="688" y="799.5" width="1" height="32.2" fill="#5fa355"/>
<rect x="694" y="799.5" width="1" height="37.1" fill="#5fa355"/>
<rect x="700" y="799.5" width="1" height="22.1" fill="#5fa355"/>
<rect x="706" y="799.5" width="1" height="14.2" fill="#5fa355"/>
<rect x="712" y="799.5" width="1" height="3.2" fill="#5fa355"/>
<rect x="718" y="793.0" width="1" height="6.5" fill="#d8433c"/>
<rect x="724" y="792.2" width="1" height="7.3" fill="#d8433c"/>
<rect x="730" y="799.5" width="1" height="5.3" fill="#5fa355"/>
<rect x="736" y="799.5" width="1" height="5.3" fill="#5fa355"/>
<rect x="742" y="787.0" width="1" height="12.5" fill="#d8433c"/>
<rect x="748" y="782.0" width="1" height="17.5" fill="#d8433c"/>
<rect x="754" y="781.0" width="1" height="18.5" fill="#d8433c"/>
<rect x="760" y="792.1" width="1" height="7.4" fill="#d8433c"/>
<rect x="766" y="794.9" width="1" height="4.6" fill="#d8433c"/>
<rect x="772" y="799.5" width="1" height="15.1" fill="#5fa355"/>
<rect x="778" y="799.5" width="1" height="22.1" fill="#5fa355"/>
<rect x="784" y="799.5" width="1" height="16.4" fill="#5fa355"/>
<rect x="790" y="799.5" width="1" height="13.2" fill="#5fa355"/>
<rect x="796" y="799.5" width="1" height="4.2" fill="#5fa355"/>
<rect x="802" y="799.5" width="1" height="5.1" fill="#5fa355"/>
<rect x="808" y="799.5" width="1" height="7.3" fill="#5fa355"/>
<rect x="814" y="798.0" width="1" height="1.5" fill="#d8433c"/>
<rect x="820" y="794.1" width="1" height="5.4" fill="#d8433c"/>
<rect x="826" y="771.2" width="1" height="28.3" fill="#d8433c"/>
<rect x="832" y="758.9" width="1" height="40.6" fill="#d8433c"/>
<rect x="838" y="775.0" width="1" height="24.5" fill="#d8433c"/>
<rect x="844" y="779.8" width="1" height="19.7" fill="#d8433c"/>
<rect x="850" y="790.0" width="1" height="9.5" fill="#d8433c"/>
</g>
<polyline fill="none" stroke="#0a0ab4" stroke-width="1" stroke-linejoin="round" shape-rendering="crispEdges" points="88.5,810.3 94.5,812.3 100.5,814.2 106.5,816.3 112.5,818.0 118.5,817.0 124.5,813.8 130.5,810.0 136.5,806.6 142.5,805.6 148.5,804.5 154.5,802.8 160.5,799.6 166.5,796.0 172.5,792.2 178.5,788.4 184.5,784.0 190.5,782.1 196.5,781.4 202.5,782.5 208.5,784.3 214.5,788.4 220.5,793.5 226.5,798.2 232.5,800.5 238.5,802.4 244.5,800.5 250.5,796.7 256.5,792.2 262.5,787.8 268.5,781.4 274.5,774.4 280.5,766.8 286.5,760.5 292.5,755.1 298.5,750.3 304.5,749.3 310.5,752.9 316.5,756.7 322.5,761.1 328.5,765.6 334.5,766.8 340.5,766.8 346.5,765.6 352.5,760.5 358.5,760.5 364.5,764.3 370.5,768.1 376.5,773.2 382.5,778.9 388.5,783.6 394.5,785.9 400.5,788.4 406.5,790.7 412.5,792.9 418.5,795.4 424.5,796.7 430.5,797.7 436.5,798.6 442.5,798.6 448.5,799.6 454.5,800.2 460.5,801.1 466.5,801.7 472.5,803.4 478.5,804.9 484.5,806.6 490.5,804.3 496.5,802.4 502.5,800.2 508.5,798.6 514.5,798.6 520.5,798.6 526.5,799.2 532.5,799.8 538.5,800.5 544.5,801.2 550.5,803.6 556.5,805.5 562.5,804.4 568.5,803.2 574.5,802.3 580.5,801.3 586.5,798.7 592.5,792.4 598.5,787.3 604.5,783.5 610.5,783.5 616.5,785.4 622.5,788.6 628.5,792.5 634.5,790.1 640.5,783.3 646.5,773.5 652.5,760.8 658.5,752.8 664.5,746.3 670.5,742.3 676.5,741.3 682.5,743.8 688.5,748.0 694.5,752.1 700.5,755.2 706.5,757.4 712.5,757.4 718.5,756.3 724.5,755.2 730.5,755.5 736.5,755.9 742.5,755.2 748.5,753.3 754.5,750.5 760.5,749.5 766.5,749.5 772.5,751.7 778.5,753.7 784.5,755.6 790.5,757.3 796.5,757.6 802.5,758.3 808.5,759.3 814.5,759.3 820.5,758.0 826.5,753.8 832.5,748.5 838.5,746.2 844.5,744.5 850.5,743.3"/>
<polyline fill="none" stroke="#000000" stroke-width="1.0" stroke-linejoin="round" shape-rendering="crispEdges" points="88.5,813.2 94.5,824.2 100.5,819.5 106.5,826.3 112.5,823.3 118.5,807.5 124.5,801.1 130.5,794.5 136.5,792.2 142.5,800.1 148.5,800.1 154.5,796.0 160.5,787.8 166.5,783.3 172.5,778.3 178.5,770.4 184.5,766.8 190.5,773.8 196.5,778.3 202.5,788.7 208.5,792.9 214.5,800.2 220.5,813.2 226.5,817.6 232.5,810.4 238.5,808.1 244.5,792.9 250.5,779.5 256.5,772.5 262.5,769.4 268.5,757.9 274.5,749.0 280.5,736.3 286.5,737.4 292.5,733.6 298.5,731.3 304.5,744.0 310.5,762.4 316.5,775.7 322.5,780.4 328.5,779.1 334.5,772.3 340.5,768.1 346.5,757.3 352.5,741.4 358.5,761.7 364.5,778.0 370.5,785.2 376.5,792.9 382.5,800.2 388.5,799.8 394.5,796.3 400.5,796.7 406.5,799.8 412.5,800.2 418.5,803.7 424.5,801.4 430.5,801.4 436.5,803.7 442.5,798.2 448.5,804.5 454.5,802.6 460.5,804.5 466.5,805.6 472.5,808.7 478.5,810.4 484.5,810.4 490.5,799.2 496.5,796.0 502.5,788.7 508.5,793.5 514.5,797.3 520.5,799.6 526.5,801.4 532.5,804.3 538.5,802.1 544.5,803.1 550.5,810.8 556.5,812.1 562.5,803.8 568.5,798.7 574.5,796.2 580.5,796.2 586.5,784.1 592.5,770.8 598.5,766.0 604.5,768.9 610.5,782.2 616.5,794.9 622.5,802.5 628.5,805.6 634.5,785.5 640.5,757.3 646.5,732.5 652.5,715.9 658.5,721.3 664.5,720.3 670.5,725.4 676.5,738.1 682.5,753.3 688.5,764.1 694.5,771.4 700.5,766.3 706.5,764.1 712.5,757.8 718.5,753.0 724.5,751.2 730.5,757.8 736.5,759.0 742.5,749.0 748.5,743.5 754.5,741.3 760.5,746.0 766.5,747.3 772.5,757.5 778.5,764.4 784.5,763.4 790.5,763.2 796.5,759.3 802.5,760.4 808.5,762.3 814.5,758.0 820.5,754.4 826.5,740.5 832.5,729.3 838.5,734.1 844.5,734.4 850.5,737.3"/>
<g fill="#c9d5e0" shape-rendering="crispEdges">
<rect x="94" y="922" width="1" height="5"/>
<rect x="220" y="922" width="1" height="5"/>
<rect x="357" y="922" width="1" height="5"/>
<rect x="483" y="922" width="1" height="5"/>
<rect x="615" y="922" width="1" height="5"/>
<rect x="753" y="922" width="1" height="5"/>
</g>
</svg>
<div class="abs" style="left:0;top:0;width:945px;height:21px;background:#ebebf0;border-bottom:1px solid #d3d3db;box-sizing:border-box"></div>
<div class="abs" style="left:63px;top:0;width:3px;height:21px;background:#dfdfe6"></div><div class="abs" style="left:64px;top:0;width:1px;height:21px;background:#fbfbfd"></div>
<div class="abs" style="left:134px;top:0;width:3px;height:21px;background:#dfdfe6"></div><div class="abs" style="left:135px;top:0;width:1px;height:21px;background:#fbfbfd"></div>
<div class="abs" style="left:202px;top:0;width:3px;height:21px;background:#dfdfe6"></div><div class="abs" style="left:203px;top:0;width:1px;height:21px;background:#fbfbfd"></div>
<div class="abs" style="left:248px;top:0;width:3px;height:21px;background:#dfdfe6"></div><div class="abs" style="left:249px;top:0;width:1px;height:21px;background:#fbfbfd"></div>
<div class="abs" style="left:295px;top:0;width:3px;height:21px;background:#dfdfe6"></div><div class="abs" style="left:296px;top:0;width:1px;height:21px;background:#fbfbfd"></div>
<div class="abs" style="left:341px;top:0;width:3px;height:21px;background:#dfdfe6"></div><div class="abs" style="left:342px;top:0;width:1px;height:21px;background:#fbfbfd"></div>
<div class="abs" style="left:389px;top:0;width:3px;height:21px;background:#dfdfe6"></div><div class="abs" style="left:390px;top:0;width:1px;height:21px;background:#fbfbfd"></div>
<div class="abs" style="left:417px;top:0;width:3px;height:21px;background:#dfdfe6"></div><div class="abs" style="left:418px;top:0;width:1px;height:21px;background:#fbfbfd"></div>
<div class="abs" style="left:445px;top:0;width:3px;height:21px;background:#dfdfe6"></div><div class="abs" style="left:446px;top:0;width:1px;height:21px;background:#fbfbfd"></div>
<div class="abs" style="left:473px;top:0;width:3px;height:21px;background:#dfdfe6"></div><div class="abs" style="left:474px;top:0;width:1px;height:21px;background:#fbfbfd"></div>
<div class="abs" style="left:501px;top:0;width:3px;height:21px;background:#dfdfe6"></div><div class="abs" style="left:502px;top:0;width:1px;height:21px;background:#fbfbfd"></div>
<div class="abs" style="left:529px;top:0;width:3px;height:21px;background:#dfdfe6"></div><div class="abs" style="left:530px;top:0;width:1px;height:21px;background:#fbfbfd"></div>
<div class="abs" style="left:557px;top:0;width:3px;height:21px;background:#dfdfe6"></div><div class="abs" style="left:558px;top:0;width:1px;height:21px;background:#fbfbfd"></div>
<div class="abs" style="left:585px;top:0;width:3px;height:21px;background:#dfdfe6"></div><div class="abs" style="left:586px;top:0;width:1px;height:21px;background:#fbfbfd"></div>
<div class="abs" style="left:613px;top:0;width:3px;height:21px;background:#dfdfe6"></div><div class="abs" style="left:614px;top:0;width:1px;height:21px;background:#fbfbfd"></div>
<div class="abs" style="left:641px;top:0;width:3px;height:21px;background:#dfdfe6"></div><div class="abs" style="left:642px;top:0;width:1px;height:21px;background:#fbfbfd"></div>
<div class="abs" style="left:669px;top:0;width:3px;height:21px;background:#dfdfe6"></div><div class="abs" style="left:670px;top:0;width:1px;height:21px;background:#fbfbfd"></div>
<div class="abs" style="left:740px;top:0;width:3px;height:21px;background:#dfdfe6"></div><div class="abs" style="left:741px;top:0;width:1px;height:21px;background:#fbfbfd"></div>
<div class="abs" style="left:768px;top:0;width:3px;height:21px;background:#dfdfe6"></div><div class="abs" style="left:769px;top:0;width:1px;height:21px;background:#fbfbfd"></div>
<div class="abs" style="left:814px;top:0;width:3px;height:21px;background:#dfdfe6"></div><div class="abs" style="left:815px;top:0;width:1px;height:21px;background:#fbfbfd"></div>
<div class="abs" style="left:862px;top:0;width:3px;height:21px;background:#dfdfe6"></div><div class="abs" style="left:863px;top:0;width:1px;height:21px;background:#fbfbfd"></div>
<div class="abs" style="left:908px;top:0;width:3px;height:21px;background:#dfdfe6"></div><div class="abs" style="left:909px;top:0;width:1px;height:21px;background:#fbfbfd"></div>
<svg class="abs" style="left:8px;top:1px" width="15" height="13" viewBox="0 0 15 13"><path d="M5.8 0.2 L0.1 5.1 L5.8 10 V7.3 C9.5 7.3 12 8.5 13.9 12 C14.2 7 11.5 3.3 5.8 3.1 Z" fill="#444e58"/></svg>
<div class="abs" style="left:24.5px;top:-0.5px;font-size:12.6px;line-height:16px;color:#444e58;font-weight:500;">返回</div>
<svg class="abs" style="left:79px;top:1.2px" width="14" height="12.4" viewBox="0 0 14 12"><path d="M7 0 L0 6 H1.8 V12 H5.4 V8 H8.6 V12 H12.2 V6 H14 Z" fill="#444e58"/></svg>
<div class="abs" style="left:96px;top:-0.5px;font-size:12.6px;line-height:16px;color:#444e58;font-weight:500;">首页</div>
<svg class="abs" style="left:161px;top:0px" width="20" height="16" viewBox="0 0 20 16"><path d="M12.55 12.43 A6.6 6.6 0 1 1 15.0 7.3" fill="none" stroke="#444e58" stroke-width="1.5"/><path d="M12.9 7.1 L18.0 7.1 L15.45 11 Z" fill="#444e58"/></svg>
<svg class="abs" style="left:217px;top:0px" width="20" height="15" viewBox="0 0 20 15"><g fill="#444e58"><rect x="0.6" y="10" width="2.6" height="4.8"/><rect x="5.2" y="7.2" width="3.2" height="7.6"/><rect x="10.8" y="9.6" width="2.7" height="5.2"/><rect x="15.5" y="4" width="2.8" height="10.8"/></g><path d="M0.5 8.8 L8.3 2.4 L11.8 6 L18.6 -0.4" fill="none" stroke="#444e58" stroke-width="1.5"/></svg>
<svg class="abs" style="left:263px;top:0px" width="20" height="15" viewBox="0 0 20 15"><g fill="#444e58"><rect x="0.5" y="4.8" width="2.9" height="5.6"/><rect x="1.5" y="4" width="0.9" height="7.4"/><rect x="5.7" y="2.4" width="3.2" height="8.7"/><rect x="6.8" y="0" width="1" height="14.3"/><rect x="11.6" y="5.6" width="2.5" height="5.5"/><rect x="12.4" y="3.2" width="0.9" height="10.3"/><rect x="16.8" y="5.6" width="2.7" height="4.8"/><rect x="17.7" y="1.9" width="0.9" height="11.6"/></g></svg>
<div class="abs" style="left:307px;top:-0.5px;font-size:16px;line-height:16px;color:#444e58;color:#58616b;">tick</div>
<div class="abs" style="left:357px;top:-1px;font-size:13px;line-height:16px;color:#444e58;">5日</div>
<div class="abs" style="left:401.5px;top:-1px;font-size:13px;line-height:16px;color:#444e58;">5</div>
<div class="abs" style="left:426px;top:-1px;font-size:13px;line-height:16px;color:#444e58;">15</div>
<div class="abs" style="left:453.5px;top:-1px;font-size:13px;line-height:16px;color:#444e58;">30</div>
<div class="abs" style="left:481px;top:-1px;font-size:13px;line-height:16px;color:#444e58;">60</div>
<div class="abs" style="left:508px;top:-1px;font-size:13px;line-height:16px;color:#444e58;">2H</div>
<div class="abs" style="left:536px;top:-1px;font-size:13px;line-height:16px;color:#444e58;">4H</div>
<div class="abs" style="left:566.5px;top:-1px;font-size:12.2px;line-height:16px;color:#444e58;">日</div>
<div class="abs" style="left:594px;top:-1px;font-size:12.2px;line-height:16px;color:#444e58;">周</div>
<div class="abs" style="left:622.5px;top:-1px;font-size:12.2px;line-height:16px;color:#444e58;">月</div>
<div class="abs" style="left:650px;top:-1px;font-size:12.2px;line-height:16px;color:#444e58;">年</div>
<svg class="abs" style="left:685px;top:2px" width="14" height="12" viewBox="0 0 14 12"><g fill="#444e58"><rect x="0.3" y="0.6" width="13" height="2.3"/><rect x="0.3" y="4.9" width="13" height="2.3"/><rect x="0.3" y="9.2" width="13" height="2.3"/></g></svg>
<div class="abs" style="left:703px;top:-0.5px;font-size:12.4px;line-height:16px;color:#444e58;font-weight:500;">更多</div>
<div class="abs" style="left:747px;top:-5px;font-size:19px;line-height:22px;color:#444e58;font-weight:bold;font-style:italic;font-family:'Liberation Serif',serif">f</div>
<div class="abs" style="left:755px;top:0px;font-size:13px;line-height:16px;color:#444e58;font-weight:bold">x</div>
<svg class="abs" style="left:784px;top:-1px" width="20" height="17" viewBox="0 0 20 17"><circle cx="8.6" cy="7.3" r="5.6" fill="none" stroke="#444e58" stroke-width="1.1"/><path d="M5.6 7.3 H11.6 M12.6 11.5 L16.6 15.6" stroke="#444e58" stroke-width="1.3" fill="none"/></svg>
<svg class="abs" style="left:831px;top:-1px" width="20" height="17" viewBox="0 0 20 17"><circle cx="8.6" cy="7.3" r="5.6" fill="none" stroke="#444e58" stroke-width="1.1"/><path d="M5.6 7.3 H11.6 M8.6 4.3 V10.3 M12.6 11.5 L16.6 15.6" stroke="#444e58" stroke-width="1.3" fill="none"/></svg>
<svg class="abs" style="left:879px;top:0px" width="17" height="16" viewBox="0 0 17 16"><path d="M3.4 9.8 L12 0.8 L14.6 3.2 L6 12 L2.8 12.9 Z" fill="#444e58"/><rect x="0.6" y="13.6" width="15" height="1.1" fill="#444e58"/></svg>
<svg class="abs" style="left:914px;top:0px" width="22" height="18" viewBox="0 0 22 18"><path d="M1.5 16.3 L11 4 L20.5 16.3 Z" fill="none" stroke="#444e58" stroke-width="1.1"/><rect x="1.5" y="0" width="18" height="0.8" fill="#444e58"/></svg>
<div class="abs" style="left:937px;top:15px;width:8px;height:1.5px;background:#444e58"></div>
<div class="side" style="top:20px;height:52px"><span style="top:8px">分</span><span style="top:22px">时</span><span style="top:36px">图</span></div>
<div class="side" style="top:72px;height:46px;background:#ff6600;color:#fff"><span style="top:5px;font-family:'Liberation Serif',serif;font-size:12px">K</span><span style="top:19px">线</span><span style="top:33px">图</span></div>
<div class="side" style="top:118px;height:52px"><span style="top:7px">闪</span><span style="top:21px">电</span><span style="top:35px">图</span></div>
<div class="side" style="top:170px;height:65px;border-top:1px solid #d5d5dc"><span style="top:6px">合</span><span style="top:20px">约</span><span style="top:34px">资</span><span style="top:48px">料</span></div>
<div class="abs" style="left:13px;top:235px;width:1px;height:723px;background:#dbe4ec"></div>
<div class="yl" style="top:35px">161.149</div>
<div class="yl" style="top:91px">159.081</div>
<div class="yl" style="top:148px">157.013</div>
<div class="yl" style="top:205px">154.944</div>
<div class="yl" style="top:261px">152.876</div>
<div class="yl" style="top:318px">150.808</div>
<div class="yl" style="top:375px">148.740</div>
<div class="yl" style="top:432px">146.671</div>
<div class="yl" style="top:488px">144.603</div>
<div class="yl" style="top:545px">142.535</div>
<div class="yl" style="top:602px">140.467</div>
<div class="yl" style="top:681px">1.033</div>
<div class="yl" style="top:704px">0.815</div>
<div class="yl" style="top:727px">0.597</div>
<div class="yl" style="top:751px">0.379</div>
<div class="yl" style="top:774px">0.162</div>
<div class="yl" style="top:798px">-0.056</div>
<div class="yl" style="top:821px">-0.274</div>
<div class="yl" style="top:844px">-0.492</div>
<div class="yl" style="top:868px">-0.710</div>
<div class="yl" style="top:891px">-0.928</div>
<div class="abs" style="left:86px;top:23px;font-size:12px;line-height:16px;color:#000;font-weight:500">美元日元<span style="color:#ff6a0a;font-weight:400;margin-left:-1px">【日线】</span></div>
<svg class="abs" style="left:182px;top:27.5px" width="10" height="10" viewBox="0 0 10 10"><circle cx="5" cy="5" r="4" fill="none" stroke="#ff7a1a" stroke-width="1"/><path d="M1 5 H9 M5 1 V9" stroke="#ff7a1a" stroke-width="1"/></svg>
<svg class="abs" style="left:199px;top:22px" width="12" height="13" viewBox="0 0 12 13"><rect x="0.5" y="0.5" width="11" height="12" fill="#fff" stroke="#1a1ab0" stroke-width="1"/><path d="M1 8 L4 4 L7 7 L11 2.5" fill="none" stroke="#e02020" stroke-width="1.2"/><path d="M1 10.5 L4 7.5 L7 10 L11 6" fill="none" stroke="#2040d0" stroke-width="1.2"/></svg>
<div class="abs" id="h1" style="left:214px;top:22.5px;letter-spacing:0.21px;font-size:12px;line-height:16px;color:#111">MA1(50,0,200,0)</div>
<div class="abs" id="h2" style="left:311px;top:22.5px;letter-spacing:0.245px;font-size:12px;line-height:16px;color:#111">MA50:152.033</div>
<div class="abs" id="h3" style="left:402px;top:22.5px;letter-spacing:0.23px;font-size:12px;line-height:16px;color:#1a1aa0">MA0:156.718</div>
<div class="abs" id="h4" style="left:484px;top:22.5px;letter-spacing:0.2px;font-size:12px;line-height:16px;color:#ff00ff">MA200:147.879</div>
<div class="abs" id="h5" style="left:582px;top:22.5px;letter-spacing:0.2px;font-size:12px;line-height:16px;color:#ff7a1a">MA0:156.718</div>
<div class="abs" style="left:837.5px;top:118px;font-size:12px;font-weight:bold;line-height:14px;color:#d8433c">157.890</div>
<svg class="abs" style="left:14.5px;top:665.5px" width="16" height="16" viewBox="0 0 16 16"><circle cx="8" cy="8" r="3.5" fill="#fff" stroke="#111" stroke-width="1"/><circle cx="8" cy="8" r="1.9" fill="#ff0000"/><g stroke="#ff0000" stroke-width="1.1"><path d="M8 1 V3 M8 13 V15 M1 8 H3 M13 8 H15 M2.9 2.9 L4.5 4.5 M11.5 11.5 L13.1 13.1 M2.9 13.1 L4.5 11.5 M11.5 4.5 L13.1 2.9"/></g></svg>
<div class="abs" id="m1" style="left:86px;top:669px;font-size:12px;line-height:16px;color:#111">MACD(13,8,9) DIFF:0.573</div>
<div class="abs" id="m2" style="left:237px;top:669px;letter-spacing:-0.2px;font-size:12px;line-height:16px;color:#1a1aa0">DEA:0.530</div>
<div class="abs" id="m3" style="left:303px;top:669px;font-size:12px;line-height:16px;color:#ff00ff">MACD:0.087</div>
<div class="abs" style="left:14px;top:922px;width:70px;height:20px;box-sizing:border-box;border:1px solid #d3dce6;border-left:none;font-size:12.2px;font-weight:bold;color:#ff6a0a;line-height:19px"><span style="position:absolute;left:14px;top:2px">日线</span><svg style="position:absolute;left:44px;top:6px" width="10" height="10" viewBox="0 0 10 10"><path d="M0.4 9 L4.7 0.5 L9 9 Z" fill="#ff6a0a"/></svg></div>
<div class="dl" style="left:97px">2025/06</div>
<div class="dl" style="left:223px">2025/07</div>
<div class="dl" style="left:360px">2025/08</div>
<div class="dl" style="left:486px">2025/09</div>
<div class="dl" style="left:618px">2025/10</div>
<div class="dl" style="left:756px">2025/11</div>
<div class="abs" style="left:84px;top:942px;width:861px;height:1px;background:#d3dce6"></div>
<div class="tab" style="left:14px;width:39px;background:#ff6600;color:#fff;border-right-color:#ff6600;border-bottom-color:#ff6600;">指标</div>
<div class="tab" style="left:53px;width:41px;">模板</div>
<div class="tab" style="left:94px;width:58px;color:#ff6600;"><i>VIP</i>指标</div>
<div class="tab" style="left:152px;width:28px;"><i>MA</i></div>
<div class="tab" style="left:180px;width:40px;"><i>MACD</i></div>
<div class="tab" style="left:220px;width:39px;"><i>BOLL</i></div>
<div class="tab" style="left:259px;width:34px;"><i>VOL</i></div>
<div class="tab" style="left:293px;width:41px;"><i>BIAS</i></div>
<div class="tab" style="left:334px;width:34px;"><i>CCI</i></div>
<div class="tab" style="left:368px;width:34px;"><i>KDJ</i></div>
<div class="tab" style="left:402px;width:40px;"><i>LW&amp;</i></div>
<div class="tab" style="left:442px;width:34px;"><i>RSI</i></div>
<div class="tab" style="left:476px;width:27px;"><i>CR</i></div>
<div class="tab" style="left:503px;width:35px;"><i>PSY</i></div>
<div class="tab" style="left:538px;width:40px;">设置</div>
<div class="abs" style="left:578px;top:956px;width:367px;height:1px;background:#e3e9f0"></div>
<div class="abs" style="left:0;top:957px;width:945px;height:2px;background:#d0d8e2"></div>
<div class="abs" style="left:736px;top:959px;width:180px;height:8px;background:#b5b5ba"></div>
<svg class="abs" style="left:814px;top:959px" width="24" height="8" viewBox="0 0 24 8"><path d="M0 8 L12 1 L24 8 Z" fill="#55555a"/></svg>
<div class="abs" style="left:0;top:967px;width:945px;height:1px;background:#d0d8e2"></div>
<div class="abs" style="left:0;top:968px;width:40px;height:11px;border-right:1px solid #d0d8e2;font-size:12px;line-height:14px;color:#222;overflow:hidden;font-family:'Liberation Sans','Noto Sans CJK SC',sans-serif"><span style="position:relative;left:6px;top:3px">资讯</span></div>
<div class="abs" style="left:816px;top:925px;font-size:30.5px;line-height:36px;letter-spacing:2px;color:#dbe7f6;text-shadow:1px 1px 1px rgba(170,120,90,.6);">FX678</div>
</body></html>
